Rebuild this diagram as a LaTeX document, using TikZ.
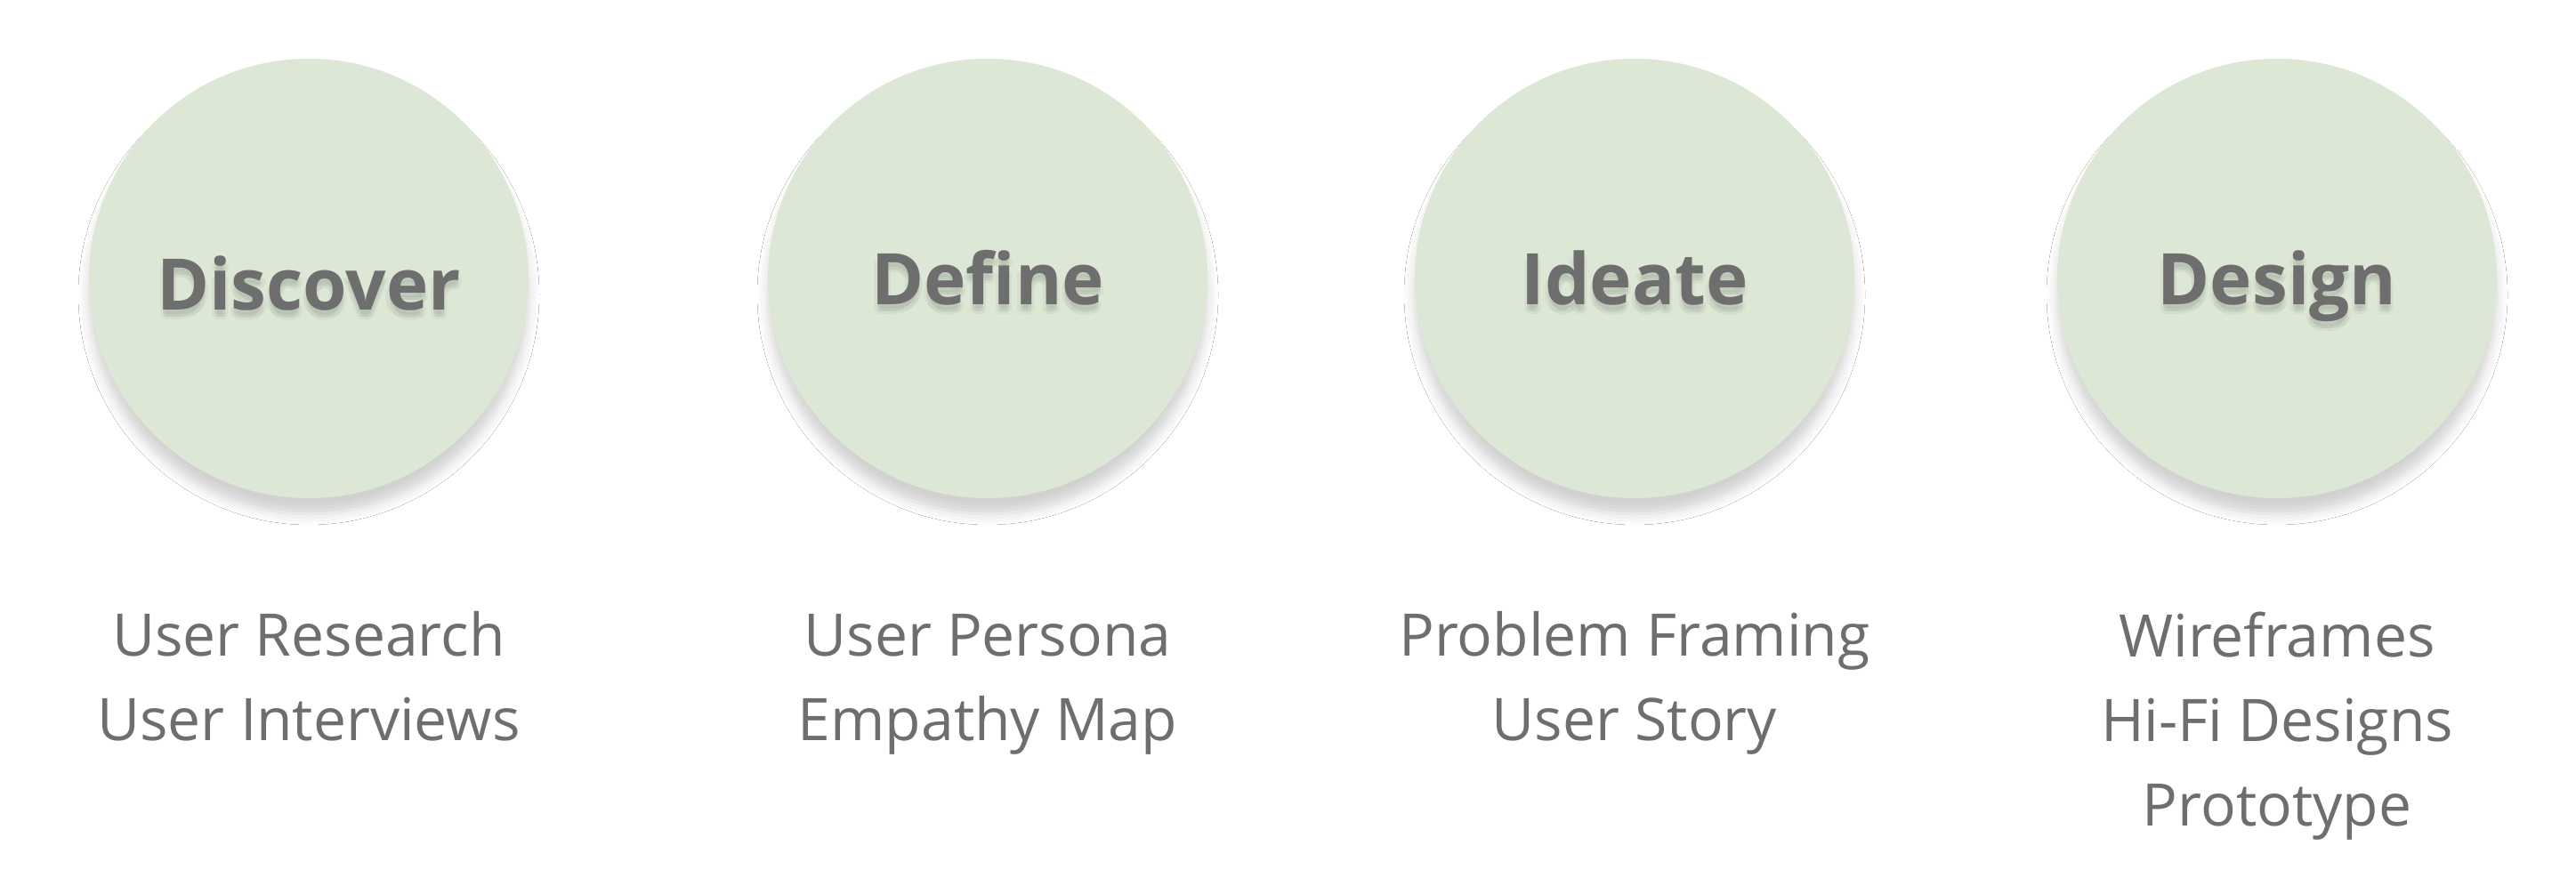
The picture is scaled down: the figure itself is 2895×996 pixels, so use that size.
\documentclass[tikz,border=0pt]{standalone}
\usepackage{fontspec}
\setmainfont{Open Sans}
\usepackage{tikz}
\usetikzlibrary{positioning,shadows.blur}
\definecolor{phasegreen}{HTML}{DCE8D5}
\definecolor{labelgray}{HTML}{6E6E6E}
\tikzset{
  phase/.style      = {shape=circle, fill=phasegreen, inner sep=0pt,
                       minimum size=123.5pt,
                       blur shadow={shadow xshift=0pt, shadow yshift=-4.5pt,
                                    shadow blur radius=3pt, shadow opacity=18}},
  phasetitle/.style = {anchor=base, text=labelgray, inner sep=0pt,
                       font=\bfseries\fontsize{20pt}{24pt}\selectfont},
  titleshade/.style = {phasetitle, text=black, opacity=0.04},
  items/.style      = {align=center, text=labelgray, inner sep=0pt, anchor=base,
                       font=\fontsize{16.5pt}{23.75pt}\selectfont}
}
\begin{document}
\begin{tikzpicture}[x=0.25pt, y=0.25pt]
  \path [fill=white, use as bounding box] (0,0) rectangle (2895,996);

  % the four phases
  \node [phase] (discover) at (347,683)  {};
  \node [phase] (define)   at (1110,683) {};
  \node [phase] (ideate)   at (1837,683) {};
  \node [phase] (design)   at (2559,683) {};

  % soft shadow under the titles
  \foreach \dx/\dy [count=\i] in {0/-1.2, -0.8/-1.8, 0.8/-1.8, 0/-2.6} {
    \node [titleshade] (discovershade\i) at ([xshift=\dx pt, yshift=\dy pt-9pt]discover.center) {Discover};
    \node [titleshade] (defineshade\i)   at ([xshift=\dx pt, yshift=\dy pt-7.5pt]define.center) {Define};
    \node [titleshade] (ideateshade\i)   at ([xshift=\dx pt, yshift=\dy pt-7.5pt]ideate.center) {Ideate};
    \node [titleshade] (designshade\i)   at ([xshift=\dx pt, yshift=\dy pt-7.5pt]design.center) {Design};
  }

  \node [phasetitle] (discovertitle) at ([yshift=-9pt]discover.center) {Discover};
  \node [phasetitle] (definetitle)   at ([yshift=-7.5pt]define.center) {Define};
  \node [phasetitle] (ideatetitle)   at ([yshift=-7.5pt]ideate.center) {Ideate};
  \node [phasetitle] (designtitle)   at ([yshift=-7.5pt]design.center) {Design};

  % what each phase covers (base = last line)
  \node [items, below=68pt of discover, anchor=base] (discoveritems)
        {User Research\\User Interviews};
  \node [items, below=68pt of define, anchor=base] (defineitems)
        {User Persona\\Empathy Map};
  \node [items, below=68pt of ideate, anchor=base] (ideateitems)
        {Problem Framing\\User Story};
  \node [items, below=92pt of design, anchor=base] (designitems)
        {Wireframes\\Hi-Fi Designs\\Prototype};
\end{tikzpicture}
\end{document}
